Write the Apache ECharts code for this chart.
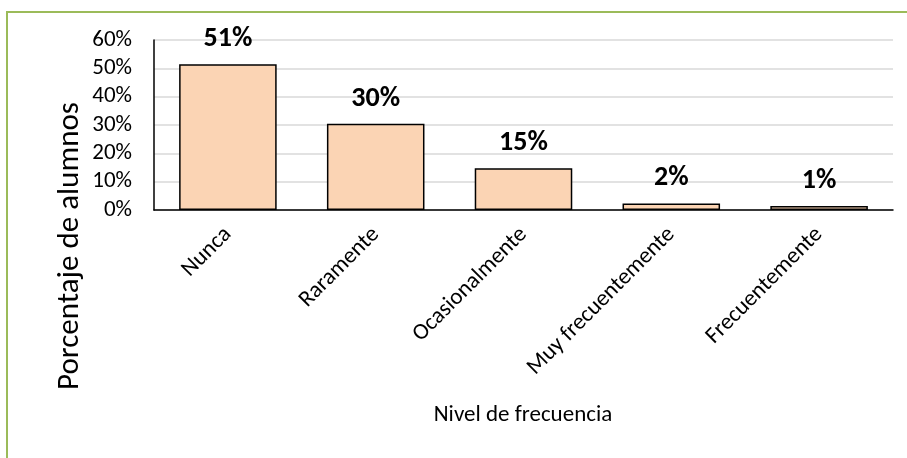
<!DOCTYPE html>
<html>
<head>
<meta charset="utf-8">
<script src="https://cdn.jsdelivr.net/npm/echarts@6/dist/echarts.min.js"></script>
<style>
  html, body { margin: 0; padding: 0; background: #fff; }
  #chart { width: 907px; height: 458px; }
</style>
</head>
<body>
<div id="chart"></div>
<script>
// datos
const categorias = ['Nunca', 'Raramente', 'Ocasionalmente', 'Muy frecuentemente', 'Frecuentemente'];
const porcentajes = [0.514, 0.304, 0.147, 0.023, 0.0145];
const ticksY = [0, 0.1, 0.2, 0.3, 0.4, 0.5, 0.6];

const fuente = 'Carlito, Calibri, "Open Sans", sans-serif';

let chart = echarts.init(document.getElementById('chart'));
let option = {
    animation: false,
    graphic: [{
        type: 'rect',
        shape: { x: 7, y: 12, width: 920, height: 460 },
        style: { fill: 'none', stroke: '#9BBB59', lineWidth: 2 }
    }, {
        // titulo del eje y
        type: 'text',
        x: 70, y: 246,
        rotation: Math.PI / 2,
        style: {
            text: 'Porcentaje de alumnos',
            font: '31px ' + fuente,
            fill: '#000',
            textAlign: 'center',
            textVerticalAlign: 'middle'
        }
    }, {
        // titulo del eje x
        type: 'text',
        x: 523, y: 415,
        style: {
            text: 'Nivel de frecuencia',
            font: '23px ' + fuente,
            fill: '#000',
            textAlign: 'center',
            textVerticalAlign: 'middle'
        }
    }],
    grid: { left: 154, right: 14, top: 40, bottom: 248 },
    xAxis: {
        type: 'category',
        data: categorias,
        axisLine: { lineStyle: { color: '#000', width: 1.5 } },
        axisTick: { show: false },
        axisLabel: { rotate: 45, margin: 21, fontFamily: fuente, fontSize: 23, color: '#000', interval: 0 }
    },
    yAxis: {
        type: 'value',
        min: ticksY[0],
        max: ticksY[ticksY.length - 1],
        interval: 0.1,
        axisLine: { show: true, lineStyle: { color: '#000', width: 1.5 } },
        axisTick: { show: false },
        splitLine: { lineStyle: { color: '#d9d9d9', width: 1.5 } },
        axisLabel: {
            fontFamily: fuente, fontSize: 23, color: '#000', margin: 22,
            formatter: v => Math.round(v * 100) + '%'
        }
    },
    series: [{
        type: 'bar',
        data: porcentajes,
        barCategoryGap: '34%',
        itemStyle: { color: '#FBD4B4', borderColor: '#000', borderWidth: 1.5 },
        label: {
            show: true,
            position: 'top',
            distance: 11,
            fontFamily: fuente,
            fontSize: 28,
            fontWeight: 'bold',
            color: '#000',
            formatter: p => Math.round(p.value * 100) + '%'
        }
    }]
};
chart.setOption(option);
</script>
</body>
</html>
